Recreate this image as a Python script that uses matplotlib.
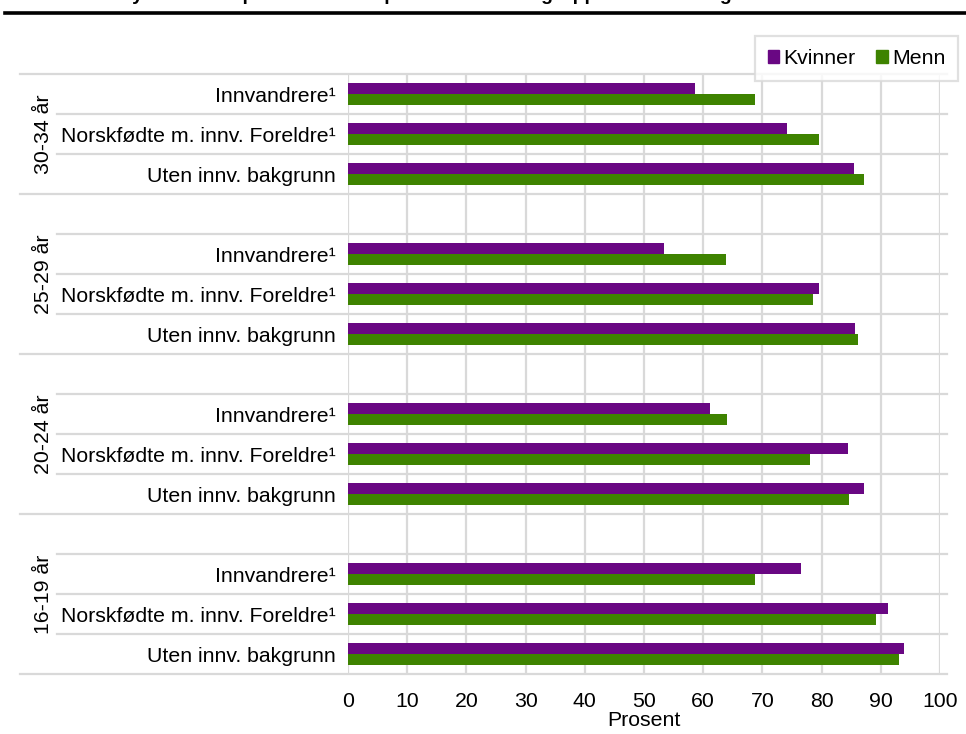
import matplotlib

matplotlib.use("Agg")
import matplotlib.pyplot as plt
from matplotlib.lines import Line2D
from matplotlib.patches import Patch
from matplotlib.transforms import blended_transform_factory

plt.rcParams["font.family"] = ["Liberation Sans", "DejaVu Sans"]

# data (percent)
groups = ["30-34 år", "25-29 år", "20-24 år", "16-19 år"]
categories = ["Innvandrere¹", "Norskfødte m. innv. Foreldre¹", "Uten innv. bakgrunn"]
kvinner = [
    [58.6, 74.1, 85.4],
    [53.4, 79.6, 85.7],
    [61.2, 84.4, 87.2],
    [76.5, 91.3, 93.9],
]
menn = [
    [68.8, 79.5, 87.2],
    [63.9, 78.5, 86.1],
    [64.0, 78.0, 84.6],
    [68.7, 89.2, 93.0],
]
x_ticks = [0, 10, 20, 30, 40, 50, 60, 70, 80, 90, 100]
title = "Sysselsatte i prosent av alle personer i aldersgruppen. Kvinner og menn"

PURPLE = "#690783"
GREEN = "#3e8300"
GRID = "#d9d9d9"
FS = 15.3

W, H = 966, 734
fig = plt.figure(figsize=(W / 100, H / 100), dpi=100)
ax = fig.add_axes([348 / W, 1 - 674 / H, (940 - 348) / W, 600 / H])

# row layout: first group has 3 rows, the others a blank row on top + 3
row_centers = []
group_spans = []
row = 0
for g in range(len(groups)):
    start = row
    if g > 0:
        row += 1
    centers = []
    for _ in categories:
        centers.append(row + 0.5)
        row += 1
    row_centers.append(centers)
    group_spans.append((start, row))
n_rows = row

bh = 0.28
for g in range(len(groups)):
    yc = row_centers[g]
    ax.barh([y - bh / 2 for y in yc], kvinner[g], height=bh, color=PURPLE, zorder=3)
    ax.barh([y + bh / 2 for y in yc], menn[g], height=bh, color=GREEN, zorder=3)

ax.set_xlim(0, 100)
ax.set_ylim(n_rows, 0)
ax.set_xticks(x_ticks)
ax.set_xticklabels([str(v) for v in x_ticks], fontsize=FS)
ax.tick_params(axis="x", length=0, pad=13)
ax.set_yticks([y for c in row_centers for y in c])
ax.set_yticklabels(categories * len(groups), fontsize=FS)
ax.tick_params(axis="y", length=0, pad=9)
ax.set_xlabel("Prosent", fontsize=FS, labelpad=0)

for s in ax.spines.values():
    s.set_visible(False)
ax.grid(axis="x", color=GRID, lw=1.6, zorder=0)

# row separators, extended into the label area
trans = blended_transform_factory(ax.transAxes, ax.transData)
group_edges = {s for s, e in group_spans} | {e for s, e in group_spans}
x_long = (20 - 348) / (940 - 348)
x_short = (57 - 348) / (940 - 348)
for b in range(n_rows + 1):
    x0 = x_long if b in group_edges else x_short
    ax.plot([x0, 1.012], [b, b], color=GRID, lw=1.6, transform=trans,
            clip_on=False, zorder=1)

# group labels, rotated, centred on their rows
for g, (s, e) in enumerate(group_spans):
    ax.text(-0.515, (s + e) / 2, groups[g], rotation=90, ha="center", va="center",
            fontsize=FS, transform=trans)

# title (cut off at the top edge, as in the source) and rule
fig.text(0.47, 1 - 0.5 / H, title, ha="center", va="baseline", fontsize=14,
         fontweight="bold")
fig.add_artist(Line2D([5 / W, 1], [1 - 13 / H, 1 - 13 / H], color="black", lw=2.6))

handles = [Patch(color=PURPLE, label="Kvinner"), Patch(color=GREEN, label="Menn")]
leg = fig.legend(handles=handles, loc="upper right", ncol=2,
                 bbox_to_anchor=(958 / W, 1 - 36 / H), borderaxespad=0,
                 fontsize=FS, frameon=True, fancybox=False,
                 handlelength=0.55, handleheight=0.55, handletextpad=0.2,
                 columnspacing=0.95, borderpad=0.6)
leg.get_frame().set_edgecolor(GRID)
leg.get_frame().set_linewidth(1.6)
leg.set_zorder(10)

fig.savefig("out.png", dpi=100)
